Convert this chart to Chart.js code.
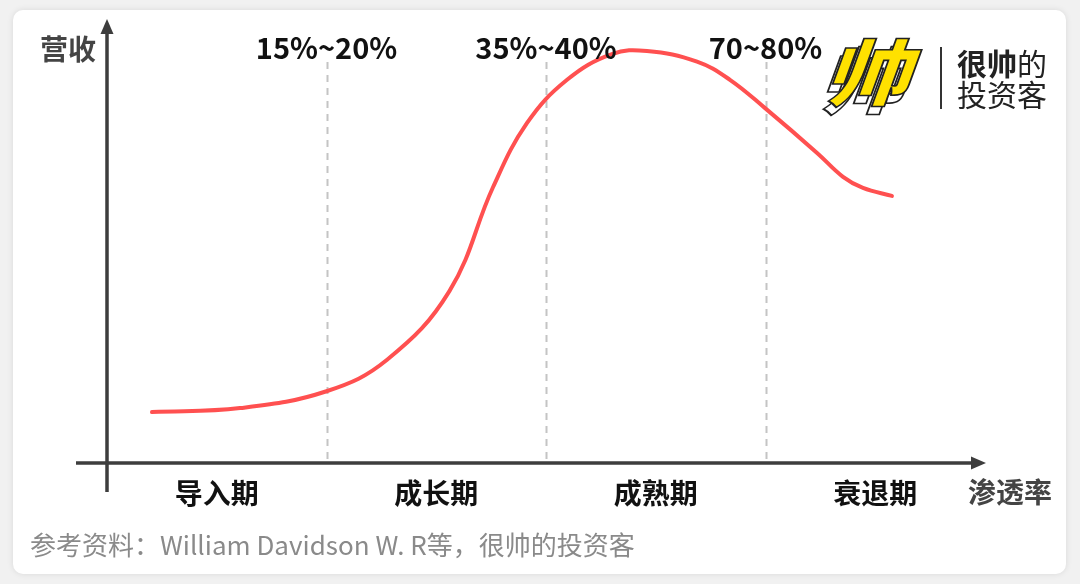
<!DOCTYPE html>
<html><head><meta charset="utf-8">
<script src="https://cdn.jsdelivr.net/npm/chart.js@4.4.1/dist/chart.umd.min.js"></script>
<style>
html,body{margin:0;padding:0;width:1080px;height:584px;background:#f1f1f1;overflow:hidden;font-family:"Noto Sans CJK SC",sans-serif;}
#card{position:absolute;left:13px;top:10px;width:1053px;height:564px;background:#fff;border-radius:10px;box-shadow:0 0 6px rgba(0,0,0,0.10);}
#c{position:absolute;left:0;top:0;}
#mark{position:absolute;left:826px;top:26px;width:100px;height:96px;}
#mark span{position:absolute;left:8px;top:0;font-size:72px;font-weight:900;line-height:86px;transform:skewX(-20deg) scaleX(1.18);transform-origin:left center;-webkit-text-stroke:1.6px #222;}
#mark .ext{color:#fff;left:3px;top:8px;}
#mark .face{color:#ffe100;}
#sep{position:absolute;left:940px;top:47px;width:2px;height:62px;background:#333;}
#brand{position:absolute;left:957px;top:47px;font-size:30px;line-height:31px;color:#222;}
#brand b{font-weight:700;}
</style></head>
<body>
<div id="card"></div>
<canvas id="c" width="1080" height="584"></canvas>
<div id="mark"><span class="ext">帅</span><span class="face">帅</span></div>
<div id="sep"></div>
<div id="brand"><b>很帅</b>的<br>投资客</div>
<script>
// Stage names (x-axis segments) and boundary labels
const phases = ['导入期', '成长期', '成熟期', '衰退期'];
const phaseCenters = [0.5, 1.5, 2.5, 3.5];
const boundaries = [1, 2, 3];
const thresholdLabels = ['15%~20%', '35%~40%', '70~80%'];
const yAxisTitle = '营收';
const xAxisTitle = '渗透率';
const sourceText = '参考资料：William Davidson W. R等，很帅的投资客';

// Curve (x: position along penetration axis in stage units, y: revenue index)
const penetration = [0.205, 0.606, 1.0, 1.276, 1.560, 1.759, 1.913, 2.096, 2.300, 2.460, 2.688, 2.838, 2.998, 3.235, 3.353, 3.444, 3.576];
const revenue     = [11.5, 12.4, 16.2, 23.3, 38.8, 62.3, 76.7, 86.5, 92.3, 93.0, 90.6, 86.5, 80.1, 70.0, 64.6, 62.1, 60.3];

const FONT = '"Noto Sans CJK SC", "Noto Sans", sans-serif';
const AXIS = '#3d3d3d';

const deco = {
  id: 'deco',
  beforeDatasetsDraw(chart) {
    const {ctx, scales: {x, y}} = chart;
    const y0 = y.getPixelForValue(0), x0 = x.getPixelForValue(0);
    const yTop = y.getPixelForValue(y.max), xEnd = x.getPixelForValue(x.max);
    ctx.save();
    ctx.strokeStyle = '#c4c4c4';
    ctx.lineWidth = 2;
    ctx.setLineDash([7, 6]);
    boundaries.forEach(b => {
      const px = Math.round(x.getPixelForValue(b)) + 0.5;
      ctx.beginPath(); ctx.moveTo(px, yTop + 42); ctx.lineTo(px, y0); ctx.stroke();
    });
    ctx.setLineDash([]);
    ctx.strokeStyle = AXIS; ctx.fillStyle = AXIS; ctx.lineWidth = 3.5;
    ctx.beginPath(); ctx.moveTo(x0, yTop + 10); ctx.lineTo(x0, y0 + 29); ctx.stroke();
    ctx.beginPath(); ctx.moveTo(x0 - 31, y0); ctx.lineTo(xEnd - 10, y0); ctx.stroke();
    ctx.beginPath(); ctx.moveTo(x0, yTop - 1); ctx.lineTo(x0 - 6.5, yTop + 14); ctx.lineTo(x0 + 6.5, yTop + 14); ctx.closePath(); ctx.fill();
    ctx.beginPath(); ctx.moveTo(xEnd + 1, y0); ctx.lineTo(xEnd - 14, y0 - 6.5); ctx.lineTo(xEnd - 14, y0 + 6.5); ctx.closePath(); ctx.fill();
    ctx.restore();
  },
  afterDraw(chart) {
    const {ctx, scales: {x, y}} = chart;
    const y0 = y.getPixelForValue(0), x0 = x.getPixelForValue(0);
    const yTop = y.getPixelForValue(y.max), xEnd = x.getPixelForValue(x.max);
    ctx.save();
    ctx.textBaseline = 'middle';
    ctx.textAlign = 'center';
    ctx.fillStyle = '#111';
    ctx.font = 'bold 29px ' + FONT;
    thresholdLabels.forEach((t, i) => ctx.fillText(t, x.getPixelForValue(boundaries[i]), yTop + 28));
    ctx.font = 'bold 28px ' + FONT;
    phases.forEach((p, i) => ctx.fillText(p, x.getPixelForValue(phaseCenters[i]), y0 + 30));
    ctx.fillStyle = '#444';
    ctx.fillText(xAxisTitle, xEnd + 25, y0 + 29);
    ctx.fillText(yAxisTitle, x0 - 39, yTop + 29);
    ctx.textAlign = 'left';
    ctx.fillStyle = '#8a8a8a';
    ctx.font = '26px ' + FONT;
    ctx.fillText(sourceText, 30, y0 + 82);
    ctx.restore();
  }
};

new Chart(document.getElementById('c'), {
  type: 'line',
  data: {
    datasets: [{
      data: penetration.map((v, i) => ({x: v, y: revenue[i]})),
      borderColor: '#ff5050',
      borderWidth: 4,
      borderCapStyle: 'round',
      borderJoinStyle: 'round',
      pointRadius: 0,
      tension: 0.4,
      fill: false
    }]
  },
  options: {
    responsive: false,
    animation: false,
    layout: {padding: {left: 107, right: 95, top: 20, bottom: 121}},
    plugins: {legend: {display: false}, tooltip: {enabled: false}},
    scales: {
      x: {type: 'linear', min: 0, max: 4, display: false},
      y: {min: 0, max: 100, display: false}
    }
  },
  plugins: [deco]
});
</script>
</body></html>
